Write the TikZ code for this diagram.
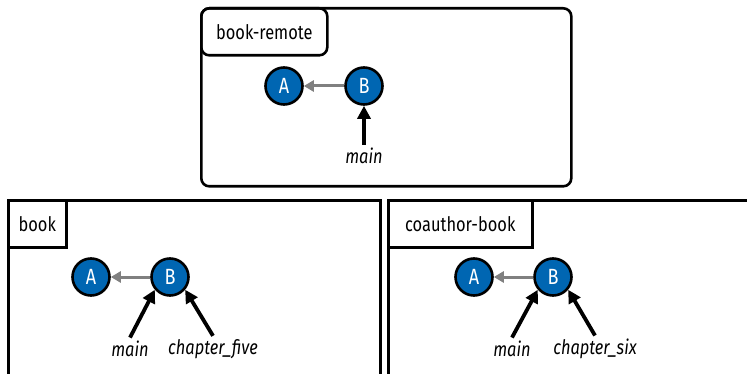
\documentclass[tikz,border=0pt]{standalone}
\usepackage{fontspec}
\setmainfont[FakeStretch=0.82]{Fira Sans}
\usetikzlibrary{arrows.meta}
\definecolor{gitblue}{RGB}{0,102,178}

\begin{document}
\begin{tikzpicture}[x=1pt,y=-1pt,font=\fontsize{20}{24}\selectfont,
  repo/.style={draw,line width=2.6pt,anchor=north west,inner sep=0pt},
  tag/.style={draw,line width=2.6pt,anchor=north west,align=center,minimum height=47pt,inner sep=0pt},
  commit/.style={circle,draw,line width=2.6pt,fill=gitblue,text=white,minimum size=37pt,inner sep=0pt,font=\fontsize{22}{24}\selectfont},
  parent/.style={draw=gray,line width=3pt,-{Triangle[length=10pt,width=11pt]}},
  ref/.style={line width=3.8pt,-{Triangle[length=13pt,width=13pt]}},
  lbl/.style={font=\fontsize{20}{24}\selectfont\itshape}]
  \useasboundingbox (0,0) rectangle (747,374);
  \clip (0,0) rectangle (747,374);
  % remote
  \node[repo,rounded corners=8pt,minimum width=370pt,minimum height=178pt] (remote) at (200,7) {};
  \node[tag,rounded corners=8pt,minimum width=126pt] (remotetag) at (remote.north west) {book-remote};
  \node[commit] (ra) at (284,86) {A};
  \node[commit] (rb) at (364,86) {B};
  \node[lbl] (rmain) at (364,156) {main};
  \draw[parent] (rb) -- (ra);
  \draw[ref] (rmain.north) -- (rb.south);
  % book
  \node[repo,minimum width=372pt,minimum height=200pt] (book) at (7,199) {};
  \node[tag,minimum width=58pt] (booktag) at (book.north west) {book};
  \node[commit] (ba) at (91,277) {A};
  \node[commit] (bb) at (170,277) {B};
  \node[lbl] (bmain) at (130,349) {main};
  \node[lbl] (bfive) at (213,349) {chapter\_five};
  \draw[parent] (bb) -- (ba);
  \draw[ref] (bmain.north) -- (bb.220);
  \draw[ref] (bfive.north) -- (bb.320);
  % coauthor-book
  \node[repo,minimum width=400pt,minimum height=200pt] (coauthor) at (387,199) {};
  \node[tag,minimum width=144pt] (coauthortag) at (coauthor.north west) {coauthor-book};
  \node[commit] (ca) at (474,277) {A};
  \node[commit] (cb) at (553,277) {B};
  \node[lbl] (cmain) at (512,349) {main};
  \node[lbl] (csix) at (595,349) {chapter\_six};
  \draw[parent] (cb) -- (ca);
  \draw[ref] (cmain.north) -- (cb.220);
  \draw[ref] (csix.north) -- (cb.320);
\end{tikzpicture}
\end{document}
